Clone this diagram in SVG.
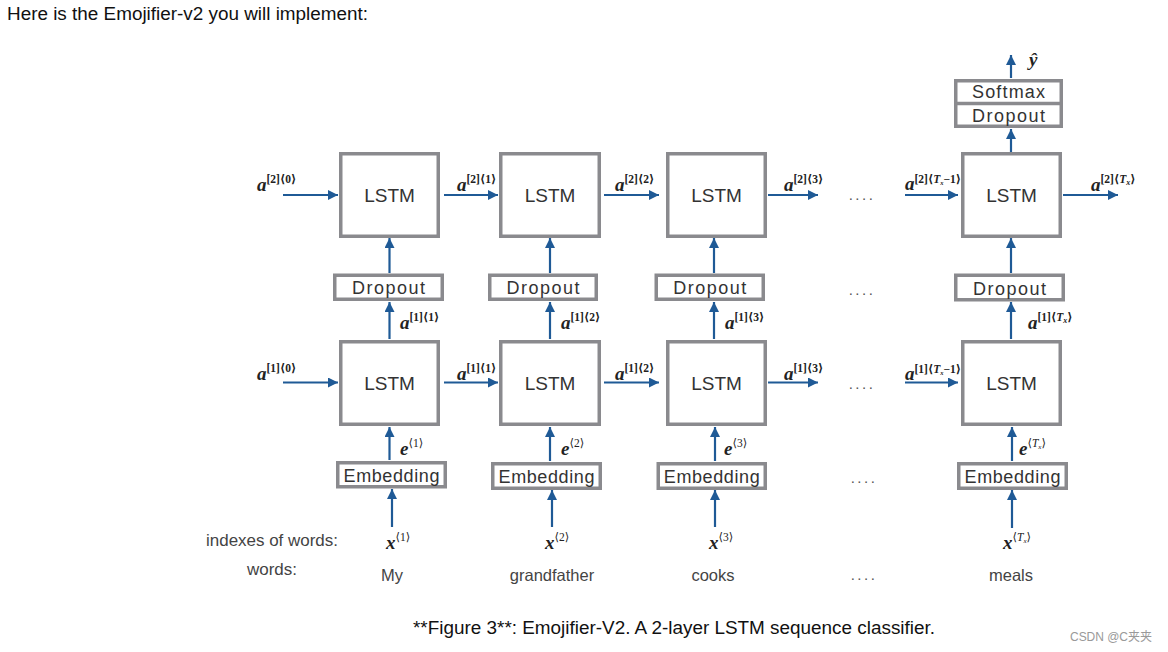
<svg xmlns="http://www.w3.org/2000/svg" width="1168" height="652" viewBox="0 0 1168 652">
<style>
.box{fill:#fff;stroke:#8a8a8e;stroke-width:3.5}
.bt{font-family:"Liberation Sans",Arial,sans-serif;fill:#333;text-anchor:middle}
.lstm{font-size:19px}
.small{font-size:18px}
.ar{stroke:#1f5a96;stroke-width:2.2;fill:none;marker-end:url(#ah)}
.m{font-family:"Liberation Serif","DejaVu Serif",serif;font-weight:bold;font-style:italic;font-size:19px;fill:#222}
.s{font-size:11.5px;font-style:normal}
.lab{font-family:"Liberation Sans",Arial,sans-serif;font-size:16.5px;fill:#444}
.txt{font-family:"Liberation Sans",Arial,sans-serif;font-size:17.5px;fill:#111}
.dots{font-family:"Liberation Sans",Arial,sans-serif;font-size:15px;fill:#555;text-anchor:middle;letter-spacing:2.5px}
</style>
<defs>
<marker id="ah" markerUnits="userSpaceOnUse" markerWidth="11" markerHeight="10" refX="10" refY="5" orient="auto">
<path d="M0,0 L10,5 L0,10 Z" fill="#1f5a96"/>
</marker>
</defs>
<rect width="1168" height="652" fill="#fff"/>
<text class="txt" x="7" y="20" textLength="361" lengthAdjust="spacingAndGlyphs">Here is the Emojifier-v2 you will implement:</text>

<g id="connectors">
<line class="ar" x1="283" y1="195" x2="338" y2="195"/>
<line class="ar" x1="444" y1="195" x2="498" y2="195"/>
<line class="ar" x1="604" y1="195" x2="659" y2="195"/>
<line class="ar" x1="768" y1="195" x2="818" y2="195"/>
<line class="ar" x1="905" y1="195" x2="958" y2="195"/>
<line class="ar" x1="1063" y1="195" x2="1118" y2="195"/>
<line class="ar" x1="283" y1="382.5" x2="338" y2="382.5"/>
<line class="ar" x1="444" y1="382.5" x2="498" y2="382.5"/>
<line class="ar" x1="604" y1="382.5" x2="659" y2="382.5"/>
<line class="ar" x1="768" y1="382.5" x2="818" y2="382.5"/>
<line class="ar" x1="905" y1="382.5" x2="958" y2="382.5"/>
<line class="ar" x1="389.5" y1="273" x2="389.5" y2="238"/>
<line class="ar" x1="389.5" y1="339" x2="389.5" y2="302"/>
<line class="ar" x1="389.5" y1="460" x2="389.5" y2="427"/>
<line class="ar" x1="392" y1="527" x2="392" y2="489"/>
<line class="ar" x1="550" y1="273" x2="550" y2="238"/>
<line class="ar" x1="550" y1="339" x2="550" y2="302"/>
<line class="ar" x1="550" y1="461" x2="550" y2="427"/>
<line class="ar" x1="552" y1="527" x2="552" y2="490"/>
<line class="ar" x1="714" y1="273" x2="714" y2="238"/>
<line class="ar" x1="714" y1="339" x2="714" y2="302"/>
<line class="ar" x1="715" y1="461" x2="715" y2="427"/>
<line class="ar" x1="715" y1="527" x2="715" y2="490"/>
<line class="ar" x1="1011" y1="152" x2="1011" y2="129"/>
<line class="ar" x1="1011" y1="78" x2="1011" y2="55"/>
<line class="ar" x1="1011" y1="273" x2="1011" y2="238"/>
<line class="ar" x1="1011" y1="339" x2="1011" y2="302"/>
<line class="ar" x1="1012" y1="461" x2="1012" y2="427"/>
<line class="ar" x1="1012" y1="528" x2="1012" y2="490"/>
</g>

<g id="lstm2-1"><rect class="box" x="340.75" y="153.75" width="97.5" height="82.5"/><text class="bt lstm" x="389.5" y="201.5">LSTM</text></g>
<g id="lstm2-2"><rect class="box" x="500.75" y="153.75" width="98.5" height="82.5"/><text class="bt lstm" x="550" y="201.5">LSTM</text></g>
<g id="lstm2-3"><rect class="box" x="667.75" y="153.75" width="97.5" height="82.5"/><text class="bt lstm" x="716.5" y="201.5">LSTM</text></g>
<g id="lstm2-4"><rect class="box" x="962.75" y="153.75" width="97.5" height="82.5"/><text class="bt lstm" x="1011.5" y="201.5">LSTM</text></g>

<g id="lstm1-1"><rect class="box" x="340.75" y="341.75" width="97.5" height="82.5"/><text class="bt lstm" x="389.5" y="389.5">LSTM</text></g>
<g id="lstm1-2"><rect class="box" x="500.75" y="341.75" width="98.5" height="82.5"/><text class="bt lstm" x="550" y="389.5">LSTM</text></g>
<g id="lstm1-3"><rect class="box" x="667.75" y="341.75" width="97.5" height="82.5"/><text class="bt lstm" x="716.5" y="389.5">LSTM</text></g>
<g id="lstm1-4"><rect class="box" x="962.75" y="341.75" width="97.5" height="82.5"/><text class="bt lstm" x="1011.5" y="389.5">LSTM</text></g>

<g id="dropout-1"><rect class="box" x="334.75" y="275.25" width="107.5" height="24"/><text class="bt small" x="388.5" y="294" textLength="73">Dropout</text></g>
<g id="dropout-2"><rect class="box" x="489.75" y="275.25" width="106.5" height="24"/><text class="bt small" x="543" y="294" textLength="73">Dropout</text></g>
<g id="dropout-3"><rect class="box" x="656.25" y="275.25" width="107" height="24"/><text class="bt small" x="709.75" y="294" textLength="73">Dropout</text></g>
<g id="dropout-4"><rect class="box" x="955.75" y="275.25" width="107.5" height="24.5"/><text class="bt small" x="1009.5" y="294.5" textLength="73">Dropout</text></g>

<g id="embed-1"><rect class="box" x="337.75" y="462.75" width="107.5" height="24"/><text class="bt small" x="391.5" y="482" textLength="96">Embedding</text></g>
<g id="embed-2"><rect class="box" x="492.75" y="463.75" width="107.5" height="24.5"/><text class="bt small" x="546.5" y="483" textLength="96">Embedding</text></g>
<g id="embed-3"><rect class="box" x="658.25" y="463.75" width="107" height="24.5"/><text class="bt small" x="711.75" y="483" textLength="96">Embedding</text></g>
<g id="embed-4"><rect class="box" x="958.75" y="463.75" width="107.5" height="24.5"/><text class="bt small" x="1012.5" y="483" textLength="96">Embedding</text></g>

<g id="softmax-dropout">
<rect class="box" x="955.75" y="80.75" width="105.5" height="45.5"/>
<line x1="955.75" y1="103.5" x2="1061.25" y2="103.5" stroke="#8a8a8e" stroke-width="3.5"/>
<text class="bt small" x="1008.5" y="98" textLength="73">Softmax</text>
<text class="bt small" x="1008.5" y="121.5" textLength="73">Dropout</text>
</g>

<g id="labels">
<text class="m" x="257" y="191">a<tspan class="s" dy="-8">[2]⟨0⟩</tspan></text>
<text class="m" x="457" y="191">a<tspan class="s" dy="-8">[2]⟨1⟩</tspan></text>
<text class="m" x="615" y="191">a<tspan class="s" dy="-8">[2]⟨2⟩</tspan></text>
<text class="m" x="784" y="191">a<tspan class="s" dy="-8">[2]⟨3⟩</tspan></text>
<text class="m" x="905" y="190" font-size="15">a<tspan class="s" font-size="9.5" dy="-7">[2]⟨<tspan font-style="italic">T</tspan><tspan font-size="6.5" font-style="italic" dy="2">x</tspan><tspan dy="-2">−1⟩</tspan></tspan></text>
<text class="m" x="1091" y="191">a<tspan class="s" dy="-8">[2]⟨<tspan font-style="italic">T</tspan><tspan font-size="8" font-style="italic" dy="2">x</tspan><tspan dy="-2">⟩</tspan></tspan></text>

<text class="m" x="257" y="380">a<tspan class="s" dy="-8">[1]⟨0⟩</tspan></text>
<text class="m" x="457" y="380">a<tspan class="s" dy="-8">[1]⟨1⟩</tspan></text>
<text class="m" x="615" y="380">a<tspan class="s" dy="-8">[1]⟨2⟩</tspan></text>
<text class="m" x="784" y="380">a<tspan class="s" dy="-8">[1]⟨3⟩</tspan></text>
<text class="m" x="905" y="380" font-size="15">a<tspan class="s" font-size="9.5" dy="-7">[1]⟨<tspan font-style="italic">T</tspan><tspan font-size="6.5" font-style="italic" dy="2">x</tspan><tspan dy="-2">−1⟩</tspan></tspan></text>

<text class="m" x="400" y="329">a<tspan class="s" dy="-8">[1]⟨1⟩</tspan></text>
<text class="m" x="561" y="329">a<tspan class="s" dy="-8">[1]⟨2⟩</tspan></text>
<text class="m" x="725" y="329">a<tspan class="s" dy="-8">[1]⟨3⟩</tspan></text>
<text class="m" x="1028" y="329">a<tspan class="s" dy="-8">[1]⟨<tspan font-style="italic">T</tspan><tspan font-size="8" font-style="italic" dy="2">x</tspan><tspan dy="-2">⟩</tspan></tspan></text>

<text class="m" x="400" y="455" font-size="16">e<tspan class="s" font-size="10" font-weight="normal" dy="-8">⟨1⟩</tspan></text>
<text class="m" x="561" y="455" font-size="16">e<tspan class="s" font-size="10" font-weight="normal" dy="-8">⟨2⟩</tspan></text>
<text class="m" x="724" y="455" font-size="16">e<tspan class="s" font-size="10" font-weight="normal" dy="-8">⟨3⟩</tspan></text>
<text class="m" x="1019" y="455" font-size="16">e<tspan class="s" font-size="10" font-weight="normal" dy="-8">⟨<tspan font-style="italic">T</tspan><tspan font-size="7" font-style="italic" dy="2">x</tspan><tspan dy="-2">⟩</tspan></tspan></text>

<text class="m" x="386" y="549" font-size="16">x<tspan class="s" font-size="10" font-weight="normal" dy="-8">⟨1⟩</tspan></text>
<text class="m" x="545" y="549" font-size="16">x<tspan class="s" font-size="10" font-weight="normal" dy="-8">⟨2⟩</tspan></text>
<text class="m" x="709" y="549" font-size="16">x<tspan class="s" font-size="10" font-weight="normal" dy="-8">⟨3⟩</tspan></text>
<text class="m" x="1003" y="549" font-size="16">x<tspan class="s" font-size="10" font-weight="normal" dy="-8">⟨<tspan font-style="italic">T</tspan><tspan font-size="7" font-style="italic" dy="2">x</tspan><tspan dy="-2">⟩</tspan></tspan></text>

<text class="m" x="1029" y="66" font-size="17">ŷ</text>
</g>

<g id="dots">
<text class="dots" x="862" y="200">....</text>
<text class="dots" x="862" y="295">....</text>
<text class="dots" x="862" y="389">....</text>
<text class="dots" x="864" y="483">....</text>
<text class="dots" x="864" y="580">....</text>
</g>

<g id="words">
<text class="lab" x="206" y="546" textLength="132" lengthAdjust="spacingAndGlyphs">indexes of words:</text>
<text class="lab" x="247" y="575" textLength="50" lengthAdjust="spacingAndGlyphs">words:</text>
<text class="lab" x="392" y="581" text-anchor="middle">My</text>
<text class="lab" x="552" y="581" text-anchor="middle">grandfather</text>
<text class="lab" x="713" y="581" text-anchor="middle">cooks</text>
<text class="lab" x="1011" y="581" text-anchor="middle">meals</text>
</g>

<text class="txt" x="413" y="634" textLength="522" lengthAdjust="spacingAndGlyphs">**Figure 3**: Emojifier-V2. A 2-layer LSTM sequence classifier.</text>
<text x="1070" y="641" font-family="'Liberation Sans','Noto Sans CJK SC',sans-serif" font-size="12" fill="#999" textLength="82">CSDN @C夹夹</text>
</svg>
